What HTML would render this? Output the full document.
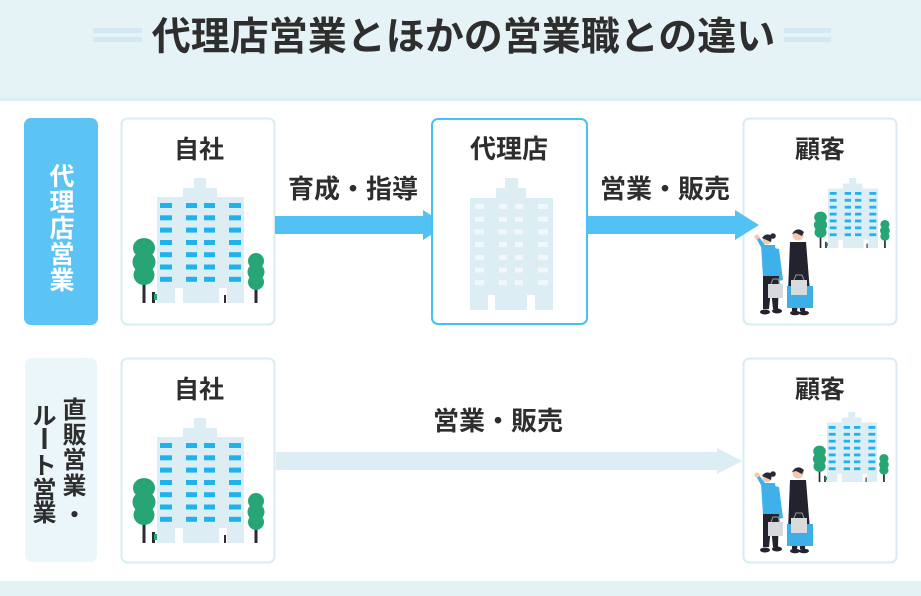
<!DOCTYPE html>
<html><head><meta charset="utf-8"><style>
html,body{margin:0;padding:0;background:#fff;}
svg{display:block;}
text{font-family:"Liberation Sans","Noto Sans CJK JP",sans-serif;font-weight:bold;fill:#2e2e2e;}
</style></head><body>
<svg width="921" height="596" viewBox="0 0 921 596" xmlns="http://www.w3.org/2000/svg">
<defs>
<g id="bld">
  <rect x="37" y="0" width="12" height="11" fill="#dcedf3"/>
  <rect x="26" y="10" width="34" height="10" fill="#dcedf3"/>
  <rect x="0" y="19" width="87" height="106" fill="#dcedf3"/>
  <g fill="#1fb3ee">
    <rect x="3" y="25" width="12" height="5"/><rect x="29" y="25" width="11" height="5"/><rect x="47" y="25" width="11" height="5"/><rect x="72" y="25" width="12" height="5"/>
    <rect x="3" y="37.3" width="12" height="5"/><rect x="29" y="37.3" width="11" height="5"/><rect x="47" y="37.3" width="11" height="5"/><rect x="72" y="37.3" width="12" height="5"/>
    <rect x="3" y="49.6" width="12" height="5"/><rect x="29" y="49.6" width="11" height="5"/><rect x="47" y="49.6" width="11" height="5"/><rect x="72" y="49.6" width="12" height="5"/>
    <rect x="3" y="62" width="12" height="5"/><rect x="29" y="62" width="11" height="5"/><rect x="47" y="62" width="11" height="5"/><rect x="72" y="62" width="12" height="5"/>
    <rect x="3" y="74.2" width="12" height="5"/><rect x="29" y="74.2" width="11" height="5"/><rect x="47" y="74.2" width="11" height="5"/><rect x="72" y="74.2" width="12" height="5"/>
    <rect x="3" y="86.5" width="12" height="5"/><rect x="29" y="86.5" width="11" height="5"/><rect x="47" y="86.5" width="11" height="5"/><rect x="72" y="86.5" width="12" height="5"/>
    <rect x="3" y="98.8" width="12" height="5"/><rect x="29" y="98.8" width="11" height="5"/><rect x="47" y="98.8" width="11" height="5"/><rect x="72" y="98.8" width="12" height="5"/>
  </g>
  <rect x="18" y="110" width="8" height="15" fill="#fff"/>
  <rect x="62" y="110" width="8" height="15" fill="#fff"/>
  <!-- trees -->
  <rect x="-14.5" y="98" width="3" height="27" fill="#2b2b3a"/>
  <g fill="#27a575">
    <ellipse cx="-13" cy="70" rx="11" ry="10"/>
    <ellipse cx="-13" cy="84" rx="11.5" ry="11"/>
    <ellipse cx="-13" cy="97" rx="10.5" ry="10"/>
  </g>
  <rect x="97.5" y="106" width="3" height="19" fill="#2b2b3a"/>
  <g fill="#27a575">
    <ellipse cx="99" cy="83" rx="8" ry="8"/>
    <ellipse cx="99" cy="94" rx="8.5" ry="8.5"/>
    <ellipse cx="99" cy="104" rx="8" ry="8"/>
  </g>
  <rect x="-5" y="114" width="3" height="11" fill="#2b2b3a"/>
  <rect x="-3" y="116" width="3" height="6" fill="#27a575"/>
  <rect x="67" y="117" width="2" height="8" fill="#2b2b3a"/>
</g>
<g id="ppl">
  <!-- woman -->
  <path d="M761,247 L756,238 L759,237 L765,245 Z" fill="#3eb0ea"/>
  <circle cx="757" cy="237" r="2.5" fill="#f1c9ae"/>
  <path d="M761,245 L775,245 L779,277 L763,277 Z" fill="#3eb0ea"/>
  <path d="M774,248 L779,249 L783,280 L779,281 Z" fill="#3eb0ea"/>
  <path d="M763,276 L779,276 L778,309 L773,309 L771,290 L769,309 L763,309 Z" fill="#23232f"/>
  <ellipse cx="765" cy="312" rx="5" ry="2.5" fill="#23232f"/>
  <ellipse cx="777" cy="311" rx="5" ry="2.5" fill="#23232f"/>
  <circle cx="767" cy="240" r="4.5" fill="#f1c9ae"/>
  <path d="M762,238 Q766,232 772,236 L771,242 Z" fill="#2a2a38"/>
  <circle cx="773" cy="236" r="2.8" fill="#2a2a38"/>
  <rect x="768" y="284" width="15" height="14" fill="#d6d8db"/>
  <path d="M771,284 L773,279 L778,279 L780,284" fill="none" stroke="#9a9ca0" stroke-width="1"/>
  <!-- man -->
  <path d="M790,242 L806,242 L810,292 L788,292 Z" fill="#23232f"/>
  <path d="M792,291 L806,291 L805,311 L800,311 L799,298 L797,311 L792,311 Z" fill="#23232f"/>
  <ellipse cx="795" cy="313" rx="5" ry="2.3" fill="#23232f"/>
  <ellipse cx="804" cy="313" rx="5" ry="2.3" fill="#23232f"/>
  <circle cx="798" cy="235" r="5.5" fill="#f1c9ae"/>
  <path d="M792,234 Q797,226 804,232 L802,236 L796,233 Z" fill="#2a2a38"/>
  <rect x="787" y="286" width="26" height="22" fill="#3eaee8"/>
  <rect x="791" y="280" width="16" height="15" fill="#d9dadc"/>
  <path d="M794,280 L796,275 L802,275 L804,280" fill="none" stroke="#9a9ca0" stroke-width="1"/>
</g>
</defs>

<!-- header -->
<rect x="0" y="0" width="921" height="99" fill="#e6f3f6"/>
<rect x="0" y="98" width="921" height="3" fill="#d9edf3"/>
<rect x="93" y="28" width="49" height="5" fill="#d3e8f2"/>
<rect x="93" y="37" width="49" height="5" fill="#d3e8f2"/>
<rect x="784" y="28" width="47" height="5" fill="#d3e8f2"/>
<rect x="784" y="37" width="47" height="5" fill="#d3e8f2"/>
<text x="463.5" y="50" font-size="39" text-anchor="middle" fill="#2a2a2a">代理店営業とほかの営業職との違い</text>

<!-- bottom band -->
<rect x="0" y="581" width="921" height="15" fill="#e4f2f5"/>

<!-- Row 1 -->
<rect x="24" y="118" width="74" height="207" rx="7" fill="#5bc4f5"/>
<g style="fill:#fff">
<text x="62" y="185" font-size="25" text-anchor="middle" style="fill:#fff">代</text>
<text x="62" y="211" font-size="25" text-anchor="middle" style="fill:#fff">理</text>
<text x="62" y="237" font-size="25" text-anchor="middle" style="fill:#fff">店</text>
<text x="62" y="263" font-size="25" text-anchor="middle" style="fill:#fff">営</text>
<text x="62" y="289" font-size="25" text-anchor="middle" style="fill:#fff">業</text>
</g>

<rect x="121.5" y="118.5" width="153" height="206" rx="6" fill="#fff" stroke="#d8ecf1" stroke-width="2"/>
<text x="199" y="158" font-size="25" text-anchor="middle">自社</text>
<use href="#bld" transform="translate(157,178)"/>

<polygon points="275,216 423,216 423,210 447,225 423,240 423,234 275,234" fill="#52c2f4"/>
<text x="353" y="198" font-size="26" text-anchor="middle">育成・指導</text>

<rect x="432" y="119" width="155" height="205" rx="6" fill="#fff" stroke="#45c2f1" stroke-width="2"/>
<text x="509" y="158" font-size="26" text-anchor="middle">代理店</text>
<g fill="#dcedf3">
  <rect x="505" y="178" width="13" height="11"/>
  <rect x="496" y="188" width="30" height="11"/>
  <rect x="470" y="198" width="83" height="112"/>
</g>
<g fill="#f1f8fb">
  <rect x="475" y="204" width="9" height="5"/><rect x="499" y="204" width="8" height="5"/><rect x="515" y="204" width="8" height="5"/><rect x="538" y="204" width="10" height="5"/>
  <rect x="475" y="216.7" width="9" height="5"/><rect x="499" y="216.7" width="8" height="5"/><rect x="515" y="216.7" width="8" height="5"/><rect x="538" y="216.7" width="10" height="5"/>
  <rect x="475" y="229.4" width="9" height="5"/><rect x="499" y="229.4" width="8" height="5"/><rect x="515" y="229.4" width="8" height="5"/><rect x="538" y="229.4" width="10" height="5"/>
  <rect x="475" y="242.1" width="9" height="5"/><rect x="499" y="242.1" width="8" height="5"/><rect x="515" y="242.1" width="8" height="5"/><rect x="538" y="242.1" width="10" height="5"/>
  <rect x="475" y="254.8" width="9" height="5"/><rect x="499" y="254.8" width="8" height="5"/><rect x="515" y="254.8" width="8" height="5"/><rect x="538" y="254.8" width="10" height="5"/>
  <rect x="475" y="267.5" width="9" height="5"/><rect x="499" y="267.5" width="8" height="5"/><rect x="515" y="267.5" width="8" height="5"/><rect x="538" y="267.5" width="10" height="5"/>
  <rect x="475" y="280.2" width="9" height="5"/><rect x="499" y="280.2" width="8" height="5"/><rect x="515" y="280.2" width="8" height="5"/><rect x="538" y="280.2" width="10" height="5"/>
</g>
<rect x="488" y="295" width="7" height="15" fill="#fff"/>
<rect x="527" y="295" width="8" height="15" fill="#fff"/>

<rect x="743.5" y="118.5" width="153" height="206" rx="6" fill="#fff" stroke="#d8ecf1" stroke-width="2"/>
<text x="820" y="158" font-size="25" text-anchor="middle">顧客</text>
<use href="#bld" transform="translate(828,178) scale(0.575,0.56)"/>
<use href="#ppl"/>

<polygon points="587,216 735,216 735,210 759,225 735,240 735,234 587,234" fill="#52c2f4"/>
<text x="665" y="198" font-size="26" text-anchor="middle">営業・販売</text>

<!-- Row 2 -->
<rect x="25" y="358" width="72" height="204" rx="7" fill="#eaf6f9"/>
<text x="74.5" y="418" font-size="24" text-anchor="middle">直</text>
<text x="74.5" y="443" font-size="24" text-anchor="middle">販</text>
<text x="74.5" y="468" font-size="24" text-anchor="middle">営</text>
<text x="74.5" y="494" font-size="24" text-anchor="middle">業</text>
<text x="74.5" y="523" font-size="24" text-anchor="middle">・</text>
<text x="44.5" y="424" font-size="24" text-anchor="middle">ル</text>
<rect x="42.5" y="428" width="4" height="21" fill="#2e2e2e"/>
<text x="44.5" y="474" font-size="24" text-anchor="middle">ト</text>
<text x="44.5" y="498" font-size="24" text-anchor="middle">営</text>
<text x="44.5" y="521" font-size="24" text-anchor="middle">業</text>

<rect x="121.5" y="358.5" width="153" height="204" rx="6" fill="#fff" stroke="#d8ecf1" stroke-width="2"/>
<text x="199" y="398" font-size="25" text-anchor="middle">自社</text>
<use href="#bld" transform="translate(157,418)"/>

<polygon points="276,452 717,452 717,448 742,461 717,474 717,470 276,470" fill="#dcedf3"/>
<text x="498" y="430" font-size="26" text-anchor="middle">営業・販売</text>

<rect x="743.5" y="358.5" width="153" height="204" rx="6" fill="#fff" stroke="#d8ecf1" stroke-width="2"/>
<text x="820" y="398" font-size="25" text-anchor="middle">顧客</text>
<use href="#bld" transform="translate(827,412) scale(0.575,0.56)"/>
<use href="#ppl" transform="translate(0,238)"/>
</svg>
</body></html>
